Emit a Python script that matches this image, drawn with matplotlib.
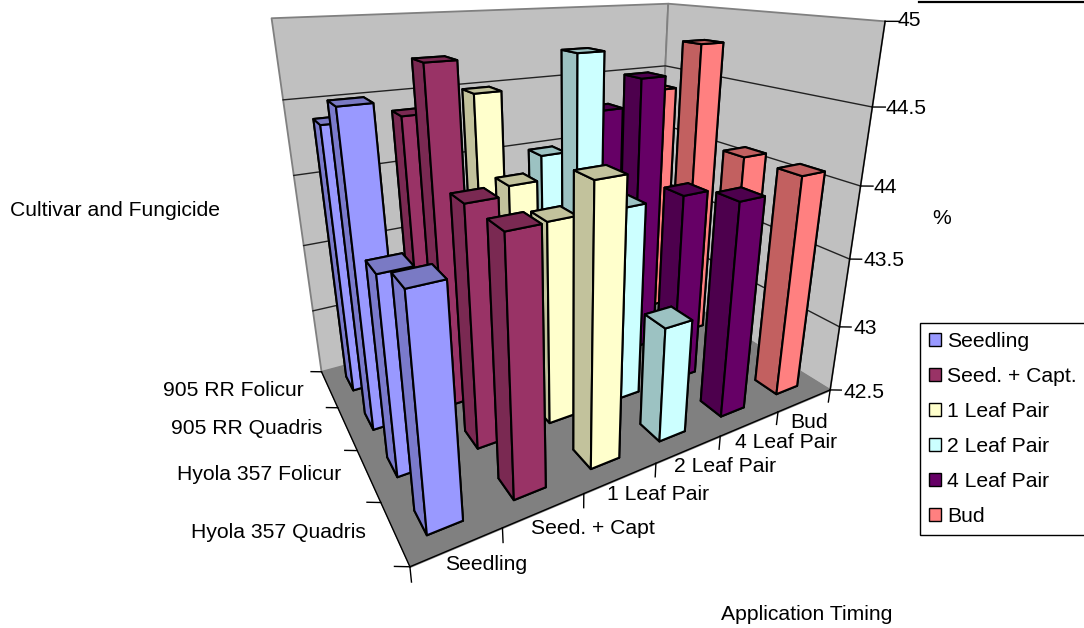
import numpy as np
import matplotlib
matplotlib.use('Agg')
import matplotlib.pyplot as plt
from matplotlib.patches import Patch
from mpl_toolkits.mplot3d.art3d import Poly3DCollection

plt.rcParams['font.family'] = ['Liberation Sans', 'DejaVu Sans']

# data, values
timing = ['Seedling', 'Seed. + Capt', '1 Leaf Pair', '2 Leaf Pair', '4 Leaf Pair', 'Bud']
legend_names = ['Seedling', 'Seed. + Capt.', '1 Leaf Pair', '2 Leaf Pair', '4 Leaf Pair', 'Bud']
cultivars = ['905 RR Folicur', '905 RR Quadris', 'Hyola 357 Folicur', 'Hyola 357 Quadris']
seedling = [44.39, 44.59, 43.80, 43.93]
seed_capt = [44.39, 44.79, 44.10, 44.11]
leaf1 = [44.49, 43.98, 43.90, 44.29]
leaf2 = [43.99, 44.78, 43.89, 43.30]
leaf4 = [44.27, 44.58, 43.89, 44.00]
bud = [44.38, 44.78, 44.08, 44.08]
z_ticks = [42.5, 43, 43.5, 44, 44.5, 45]

series = [seedling, seed_capt, leaf1, leaf2, leaf4, bud]
colors = ['#9999FF', '#993366', '#FFFFCC', '#CCFFFF', '#660066', '#FF8080']
sides = ['#7A7ACC', '#7A2952', '#C2C29C', '#9CC2C2', '#4D004D', '#C26060']
tops = ['#7A7AC4', '#7A2952', '#C2C29C', '#9CC2C2', '#4D004D', '#C26060']

W, H = 1084, 628
fig = plt.figure(figsize=(W / 100, H / 100), dpi=100)
ax = fig.add_subplot(projection='3d', computed_zorder=False)
S = 655.1
cx, cy = 561.5, 402.1
ax.set_position([(cx - S / 2) / W, (cy - S / 2) / H, S / W, S / H])
ax.view_init(20.105, -120.246)
ax.set_proj_type('persp', focal_length=0.198)
ax.set_box_aspect((1, 0.6712, 0.8238))
ax.set_axis_off()

z0, z1 = z_ticks[0], z_ticks[-1]
nx, ny = len(timing), len(cultivars)

# walls and floor
floor = [[(0, 0, z0), (nx, 0, z0), (nx, ny, z0), (0, ny, z0)]]
back = [[(0, ny, z0), (nx, ny, z0), (nx, ny, z1), (0, ny, z1)]]
right = [[(nx, 0, z0), (nx, ny, z0), (nx, ny, z1), (nx, 0, z1)]]
ax.add_collection3d(Poly3DCollection(back + right, facecolor='#C0C0C0', edgecolor='#808080', linewidth=1.3, zorder=0))
ax.add_collection3d(Poly3DCollection(floor, facecolor='#808080', edgecolor='#808080', linewidth=1, zorder=0.1))

# gridlines on the walls
for z in z_ticks[1:-1]:
    ax.plot([0, nx, nx], [ny, ny, 0], [z, z, z], color='#222222', lw=1, zorder=0.5)
ax.plot([0, 0], [0, ny], [z0, z0], color='black', lw=1, zorder=0.5)
ax.plot([0, nx], [0, 0], [z0, z0], color='black', lw=1, zorder=0.5)
ax.plot([nx, nx], [0, 0], [z0, z1], color='black', lw=1, zorder=0.5)

# tick marks
for z in z_ticks:
    ax.plot([nx, nx + 0.13], [0, -0.08], [z, z], color='black', lw=1, zorder=0.5)
for i in range(nx + 1):
    ax.plot([i, i], [0, 0], [z0, z0 - 0.1], color='black', lw=1, zorder=0.5)
for j in range(ny + 1):
    ax.plot([0, -0.13], [j, j + 0.08], [z0, z0], color='black', lw=1, zorder=0.5)

# bars, far ones first
for i in reversed(range(nx)):
    for idx in range(ny):
        j = ny - 1 - idx
        face = [tops[i], tops[i], colors[i], colors[i], sides[i], sides[i]]
        ax.bar3d(i + 0.28, j + 0.3, z0, 0.4, 0.4, series[i][idx] - z0,
                 color=face, shade=False, edgecolor='black', linewidth=1.5, zorder=1)

ax.set_xlim(0, nx, view_margin=0)
ax.set_ylim(0, ny, view_margin=0)
ax.set_zlim(z0, z1, view_margin=0)
for art in list(ax.collections) + list(ax.lines):
    art.set_clip_on(False)


def put(px, py, s, ha='left'):
    fig.text(px / W, 1 - py / H, s, ha=ha, va='center', fontsize=15.2, color='black')


put(10, 211, 'Cultivar and Fungicide')
put(932, 218, '%')
put(721, 615, 'Application Timing')

for px, py, lab in zip([304, 322, 341, 366], [391, 429, 475, 532], cultivars):
    put(px, py, lab, ha='right')
for px, py, lab in zip([445, 531, 607, 674, 735, 790], [565, 528, 495, 467, 443, 423], timing):
    put(px, py, lab)
for px, py, lab in zip([843, 853, 863, 873, 885, 898], [393, 328, 261, 188, 108, 21], z_ticks):
    put(px, py, f'{lab:g}')

# legend box
handles = [Patch(facecolor=c, edgecolor='black', linewidth=1) for c in colors]
leg = fig.legend(handles, legend_names, loc='upper left', bbox_to_anchor=(920 / W, 1 - 323 / H),
                 borderaxespad=0, fancybox=False, edgecolor='black', framealpha=1, fontsize=15.2,
                 handlelength=0.57, handleheight=0.57, handletextpad=0.3, labelspacing=0.76,
                 borderpad=0.43)
leg.get_frame().set_linewidth(1)

# black line at the top edge
fig.add_artist(plt.Line2D([919 / W, 1], [1 - 1.5 / H, 1 - 1.5 / H], color='black', lw=1.6))

fig.savefig('out.png', dpi=100)
